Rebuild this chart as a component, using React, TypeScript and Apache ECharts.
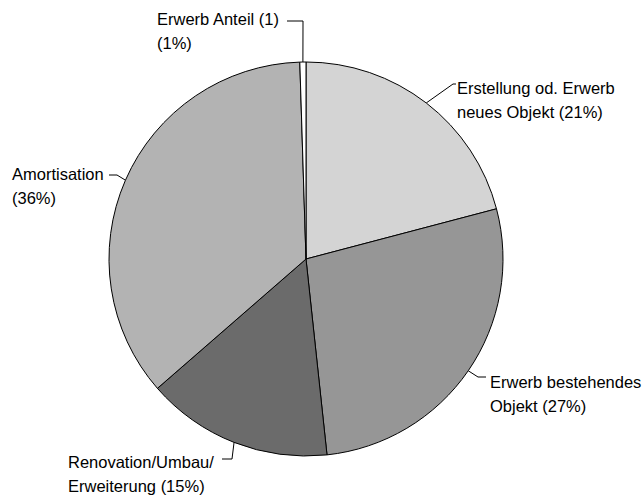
import React, { useEffect, useRef } from "react";
import * as echarts from "echarts";

const categories = [
  "Erstellung od. Erwerb neues Objekt",
  "Erwerb bestehendes Objekt",
  "Renovation/Umbau/Erweiterung",
  "Amortisation",
  "Erwerb Anteil (1)",
];
const values = [20.9, 27.4, 15.3, 35.9, 0.5];
const labelTexts = [
  "Erstellung od. Erwerb\nneues Objekt (21%)",
  "Erwerb bestehendes\nObjekt (27%)",
  "Renovation/Umbau/\nErweiterung (15%)",
  "Amortisation\n(36%)",
  "Erwerb Anteil (1)\n(1%)",
];
const colors = ["#d4d4d4", "#969696", "#6b6b6b", "#b3b3b3", "#ffffff"];

// label layout (top-left of label box, elbow point, line end point)
const labelPlacement = [
  { x: 457, y: 76, elbow: [453, 84], end: [456, 84] },
  { x: 490, y: 370, elbow: [478, 377], end: [486, 377] },
  { x: 68, y: 450, elbow: [232, 459], end: [222, 459] },
  { x: 12, y: 162, elbow: [117, 175], end: [109, 175] },
  { x: 157, y: 7, elbow: [303, 21], end: [287, 21] },
];

export default function App() {
  const ref = useRef<HTMLDivElement>(null);
  useEffect(() => {
    const chart = echarts.init(ref.current!, null, { renderer: "svg" });
    chart.setOption({
      animation: false,
      backgroundColor: "#ffffff",
      series: [
        {
          type: "pie",
          center: [306, 259],
          radius: 197,
          startAngle: 90,
          clockwise: true,
          avoidLabelOverlap: false,
          data: categories.map((c, i) => ({
            name: c,
            value: values[i],
            itemStyle: { color: colors[i] },
            label: { formatter: labelTexts[i] },
          })),
          itemStyle: { borderColor: "#000", borderWidth: 1 },
          label: {
            show: true,
            position: "outside",
            color: "#000",
            fontFamily: "Liberation Sans, Arial, sans-serif",
            fontSize: 16.5,
            lineHeight: 24,
            align: "left",
          },
          labelLine: {
            show: true,
            length: 8,
            length2: 14,
            lineStyle: { color: "#000", width: 1 },
          },
          labelLayout: (params: any) => {
            const p = labelPlacement[params.dataIndex];
            const pts = params.labelLinePoints;
            const start = pts ? pts[0] : p.elbow;
            return {
              x: p.x,
              y: p.y,
              align: "left",
              verticalAlign: "top",
              labelLinePoints: [start, p.elbow, p.end],
            };
          },
          emphasis: { disabled: true },
        },
      ],
    });
    return () => chart.dispose();
  }, []);
  return (
    <div
      ref={ref}
      style={{ position: "absolute", left: 0, top: 0, width: 643, height: 501 }}
    />
  );
}
